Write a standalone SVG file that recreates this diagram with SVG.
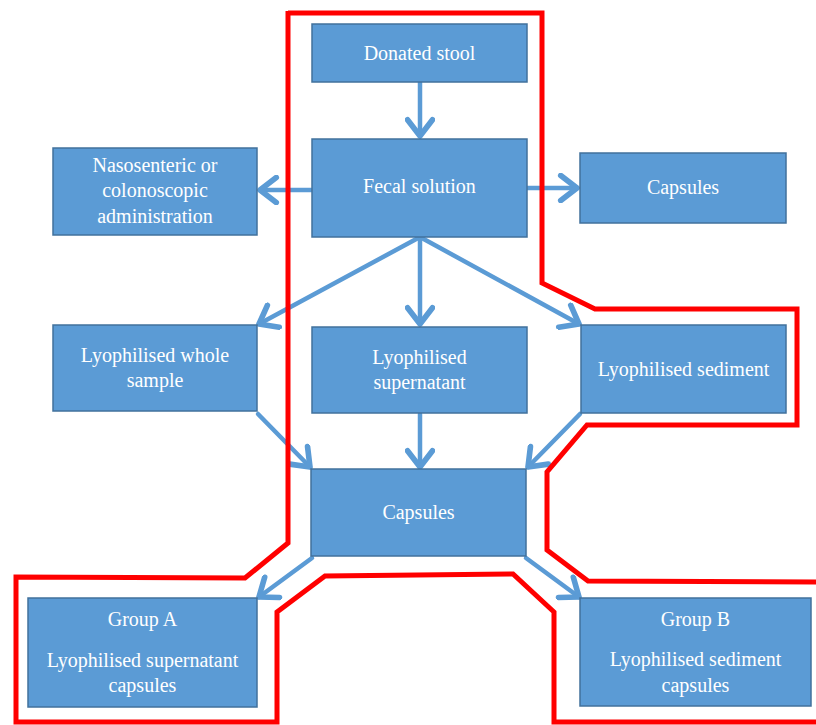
<svg xmlns="http://www.w3.org/2000/svg" width="816" height="725" viewBox="0 0 816 725">
<style>
.box{fill:#5b9bd5;stroke:#41719c;stroke-width:1.5}
.t{font-family:"Liberation Serif","Times New Roman",serif;font-size:20px;fill:#ffffff;text-anchor:middle}
.c{fill:none;stroke:#5b9bd5;stroke-width:4.5;stroke-linecap:round}
.outline{fill:none;stroke:#ff0000;stroke-width:5;stroke-linejoin:miter}
</style>
<defs>
<marker id="ah" markerUnits="userSpaceOnUse" markerWidth="30" markerHeight="30" viewBox="-16 -12 20 24" refX="0" refY="0" orient="auto">
<path d="M-13,-10 L0,0 L-13,10" fill="none" stroke="#5b9bd5" stroke-width="4.5" stroke-linecap="round" stroke-linejoin="round"/>
</marker>
</defs>
<rect width="816" height="725" fill="#ffffff"/>
<g id="connectors">
<line class="c" x1="420" y1="82" x2="420" y2="136" marker-end="url(#ah)"/>
<line class="c" x1="312" y1="190" x2="260" y2="190" marker-end="url(#ah)"/>
<line class="c" x1="527" y1="188" x2="577" y2="188" marker-end="url(#ah)"/>
<line class="c" x1="420" y1="237" x2="259" y2="324" marker-end="url(#ah)"/>
<line class="c" x1="420" y1="237" x2="420" y2="324" marker-end="url(#ah)"/>
<line class="c" x1="420" y1="237" x2="579" y2="324" marker-end="url(#ah)"/>
<line class="c" x1="258" y1="414" x2="310" y2="467" marker-end="url(#ah)"/>
<line class="c" x1="420" y1="414" x2="420" y2="467" marker-end="url(#ah)"/>
<line class="c" x1="580" y1="414" x2="528" y2="467" marker-end="url(#ah)"/>
<line class="c" x1="312" y1="558" x2="259" y2="597" marker-end="url(#ah)"/>
<line class="c" x1="526" y1="558" x2="579" y2="597" marker-end="url(#ah)"/>
</g>
<g id="donated-stool"><rect class="box" x="312" y="24" width="215" height="58"/><text class="t" x="419.5" y="60">Donated stool</text></g>
<g id="fecal-solution"><rect class="box" x="312" y="139" width="215" height="98"/><text class="t" x="419.5" y="193">Fecal solution</text></g>
<g id="nasosenteric"><rect class="box" x="53" y="148" width="204" height="87"/><text class="t" x="155" y="172">Nasosenteric or</text><text class="t" x="155" y="197">colonoscopic</text><text class="t" x="155" y="223">administration</text></g>
<g id="capsules-right"><rect class="box" x="580" y="153" width="206" height="70"/><text class="t" x="683" y="194">Capsules</text></g>
<g id="lyo-whole"><rect class="box" x="53" y="325" width="204" height="86"/><text class="t" x="155" y="362">Lyophilised whole</text><text class="t" x="155" y="387">sample</text></g>
<g id="lyo-supernatant"><rect class="box" x="312" y="327" width="215" height="86"/><text class="t" x="419.5" y="364">Lyophilised</text><text class="t" x="419.5" y="389">supernatant</text></g>
<g id="lyo-sediment"><rect class="box" x="581" y="325" width="205" height="88"/><text class="t" x="683.5" y="376">Lyophilised sediment</text></g>
<g id="capsules-center"><rect class="box" x="311" y="469" width="215" height="87"/><text class="t" x="418.5" y="519">Capsules</text></g>
<g id="group-a"><rect class="box" x="28" y="598" width="229" height="109"/><text class="t" x="142.5" y="626">Group A</text><text class="t" x="142.5" y="667">Lyophilised supernatant</text><text class="t" x="142.5" y="692">capsules</text></g>
<g id="group-b"><rect class="box" x="580" y="598" width="231" height="108"/><text class="t" x="695.5" y="626">Group B</text><text class="t" x="695.5" y="666">Lyophilised sediment</text><text class="t" x="695.5" y="692">capsules</text></g>
<path class="outline" d="M288,13 L542,13 L542,283 L595,309 L797,309 L797,425 L587,425 L547,472 L547,550 L588,581 L820,582"/>
<path class="outline" d="M820,722 L554,722 L554,612 L513,574 L325,576 L277,612 L277,722 L16,722 L16,577 L245,578 L288,543 L288,11"/>
</svg>
